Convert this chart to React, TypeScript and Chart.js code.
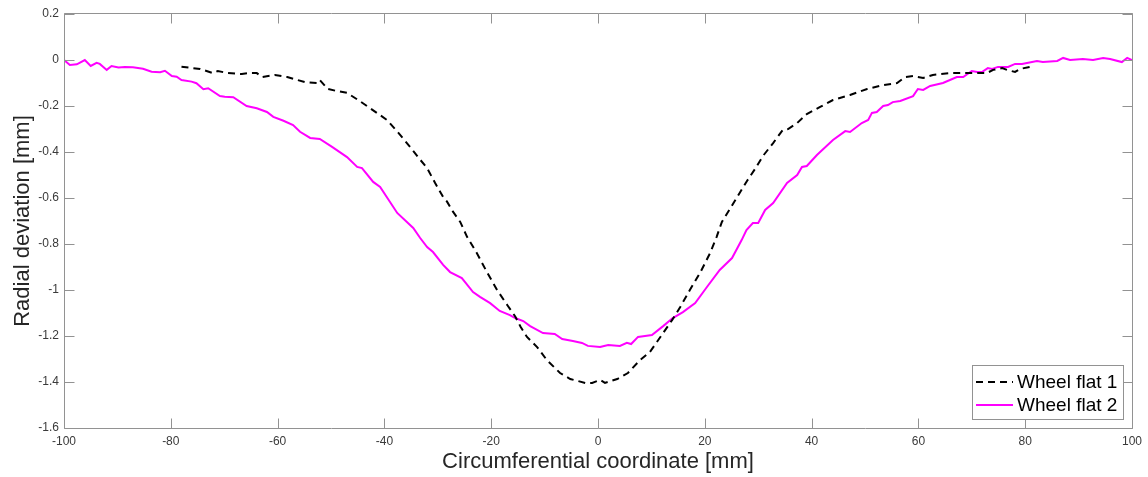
import React, { useEffect, useRef } from "react";
import { Chart, registerables } from "chart.js";

Chart.register(...registerables);

// ---- Data ----
const seriesLabels = ["Wheel flat 1", "Wheel flat 2"];

const flat1X = [
  -78.0, -74.5, -72.1, -71.2, -69.3, -66.7, -65.5, -63.9, -62.9, -60.5, -58.2, -54.9, -52.6, -52.1,
  -50.6, -48.9, -47.0, -44.9, -42.7, -39.5, -37.5, -35.2, -33.7, -32.0, -30.5, -29.0, -28.3, -27.3,
  -25.8, -24.5, -22.7, -20.8, -18.9, -17.0, -15.5, -14.5, -13.3, -11.4, -9.6, -7.1, -5.2, -2.4,
  -1.1, 0.4, 1.3, 3.6, 5.6, 7.9, 9.7, 12.2, 13.9, 15.4, 17.2, 19.1, 21.0, 22.2, 23.2, 24.7, 26.2,
  27.9, 29.4, 30.9, 32.8, 34.6, 35.6, 37.3, 39.1, 41.6, 44.0, 47.2, 50.4, 53.4, 56.0, 57.5, 59.0,
  60.9, 62.7, 65.9, 69.1, 71.2, 72.8, 74.0, 75.7, 76.6, 78.1, 79.0, 80.9,
];
const flat1Y = [
  -0.029, -0.039, -0.057, -0.048, -0.057, -0.061, -0.057, -0.057, -0.074, -0.065, -0.074, -0.096, -0.1, -0.087,
  -0.126, -0.135, -0.143, -0.174, -0.209, -0.261, -0.313, -0.378, -0.422, -0.47, -0.535, -0.596, -0.615, -0.655,
  -0.704, -0.77, -0.839, -0.922, -1.0, -1.065, -1.115, -1.16, -1.204, -1.248, -1.304, -1.361, -1.387, -1.404,
  -1.404, -1.391, -1.404, -1.387, -1.361, -1.304, -1.27, -1.187, -1.13, -1.074, -1.0, -0.926, -0.839, -0.77, -0.704, -0.648, -0.591,
  -0.526, -0.474, -0.417, -0.361, -0.304, -0.3, -0.274, -0.235, -0.204, -0.174, -0.152, -0.126, -0.109, -0.1, -0.074, -0.07,
  -0.078, -0.065, -0.057, -0.057, -0.057, -0.057, -0.043, -0.035, -0.043, -0.052, -0.039, -0.03,
];

const flat2X = [
  -100, -98.9, -97.6, -96.1, -95.0, -93.9, -93.3, -92.0, -91.1, -89.8, -88.6, -87.1, -85.2, -83.6,
  -82.0, -81.1, -79.8, -78.9, -78.0, -76.1, -75.2, -73.9, -73.0, -70.8, -69.9, -68.3, -65.8, -63.9,
  -62.0, -60.8, -58.9, -57.1, -55.8, -53.9, -52.1, -49.8, -47.0, -45.1, -44.2, -42.1, -40.8, -37.6,
  -34.6, -33.3, -32.0, -30.9, -29.0, -27.7, -25.5, -23.4, -22.1, -20.2, -18.4, -16.5, -15.5, -14.0,
  -12.7, -10.3, -8.1, -6.7, -4.7, -3.0, -1.9, 0.4, 1.9, 4.1, 5.4, 6.2, 7.5, 8.8, 10.1, 12.2, 14.0,
  15.9, 18.2, 20.4, 22.8, 25.1, 26.9, 27.8, 29.0, 30.0, 31.3, 32.8, 35.4, 37.3, 38.2, 39.1, 41.0,
  44.0, 46.3, 47.2, 49.4, 50.6, 51.3, 52.2, 53.4, 54.3, 55.2, 56.6, 59.0, 59.9, 60.9, 62.2, 64.6,
  67.2, 68.4, 70.0, 71.0, 71.9, 73.0, 73.8, 74.9, 76.8, 78.1, 79.4, 82.2, 83.3, 86.0, 87.1, 88.4,
  90.8, 92.7, 94.6, 95.9, 98.1, 99.1, 100,
];
const flat2Y = [
  0, -0.022, -0.019, 0.0, -0.026, -0.012, -0.017, -0.043, -0.026, -0.033, -0.03, -0.032, -0.038, -0.051,
  -0.053, -0.047, -0.07, -0.073, -0.087, -0.094, -0.101, -0.127, -0.123, -0.157, -0.16, -0.162, -0.2, -0.21,
  -0.226, -0.247, -0.264, -0.283, -0.312, -0.339, -0.343, -0.378, -0.422, -0.465, -0.47, -0.53, -0.552, -0.665,
  -0.73, -0.774, -0.813, -0.835, -0.891, -0.922, -0.948, -1.009, -1.03, -1.057, -1.091, -1.109, -1.122, -1.135,
  -1.157, -1.187, -1.191, -1.213, -1.222, -1.23, -1.243, -1.248, -1.239, -1.243, -1.23, -1.235, -1.204, -1.2, -1.196, -1.157, -1.122,
  -1.096, -1.057, -0.987, -0.913, -0.861, -0.783, -0.739, -0.709, -0.709, -0.652, -0.622, -0.535, -0.5, -0.465, -0.461, -0.413,
  -0.348, -0.309, -0.313, -0.274, -0.261, -0.23, -0.226, -0.2, -0.196, -0.183, -0.178, -0.157, -0.126, -0.13, -0.113, -0.1,
  -0.074, -0.074, -0.048, -0.052, -0.052, -0.035, -0.039, -0.03, -0.03, -0.017, -0.017, -0.004, -0.009, -0.004, 0.009, 0,
  0.004, 0, 0.009, 0.004, -0.009, 0.009, 0,
];

const xTickValues = [-100, -80, -60, -40, -20, 0, 20, 40, 60, 80, 100];
const yTickValues = [0.2, 0, -0.2, -0.4, -0.6, -0.8, -1, -1.2, -1.4, -1.6];
const xTitle = "Circumferential coordinate [mm]";
const yTitle = "Radial deviation [mm]";

// ---- Styling ----
const FONT = '"Liberation Sans", Helvetica, Arial, sans-serif';
const AXIS_COLOR = "#929292";
const TICK_TEXT = "#3a3a3a";
const TITLE_TEXT = "#262626";
const TICK_LEN = 10;

const framePlugin = {
  id: "matlabFrame",
  afterDatasetsDraw(chart: any) {
    const { ctx, chartArea } = chart;
    const { left, right, top, bottom } = chartArea;
    const xs = chart.scales.x;
    const ys = chart.scales.y;
    const L = Math.round(left) + 0.5;
    const R = Math.round(right) + 0.5;
    const T = Math.round(top) - 0.5;
    const B = Math.round(bottom) + 0.5;
    ctx.save();
    ctx.strokeStyle = AXIS_COLOR;
    ctx.lineWidth = 1;
    ctx.setLineDash([]);
    ctx.beginPath();
    ctx.rect(L, T, R - L, B - T);
    xs.ticks.forEach((t: any) => {
      const px = Math.round(xs.getPixelForValue(t.value)) + 0.5;
      ctx.moveTo(px, B);
      ctx.lineTo(px, B - TICK_LEN);
      ctx.moveTo(px, T);
      ctx.lineTo(px, T + TICK_LEN);
    });
    ys.ticks.forEach((t: any) => {
      const py = Math.round(ys.getPixelForValue(t.value)) + 0.5;
      ctx.moveTo(L, py);
      ctx.lineTo(L + TICK_LEN, py);
      ctx.moveTo(R, py);
      ctx.lineTo(R - TICK_LEN, py);
    });
    ctx.stroke();
    ctx.restore();
  },
  afterDraw(chart: any) {
    const { ctx, chartArea } = chart;
    const datasets = chart.data.datasets;
    ctx.save();
    ctx.font = `19px ${FONT}`;
    const tw = Math.max(...datasets.map((d: any) => ctx.measureText(d.label).width));
    const sample = 37;
    const gap = 4;
    const padL = 4;
    const padR = 6;
    const w = Math.round(padL + sample + gap + tw + padR);
    const h = 54;
    const bx = Math.round(chartArea.right) - 9 - w;
    const by = Math.round(chartArea.bottom) - 9 - h;
    ctx.fillStyle = "#ffffff";
    ctx.fillRect(bx, by, w, h);
    ctx.strokeStyle = AXIS_COLOR;
    ctx.lineWidth = 1;
    ctx.strokeRect(bx + 0.5, by + 0.5, w, h);
    datasets.forEach((d: any, i: number) => {
      const cy = by + 17 + i * 23;
      ctx.beginPath();
      ctx.strokeStyle = d.borderColor;
      ctx.lineWidth = d.borderWidth;
      ctx.setLineDash(d.borderDash || []);
      ctx.moveTo(bx + padL, cy);
      ctx.lineTo(bx + padL + sample, cy);
      ctx.stroke();
      ctx.setLineDash([]);
      ctx.fillStyle = "#000000";
      ctx.textAlign = "left";
      ctx.textBaseline = "middle";
      ctx.fillText(d.label, bx + padL + sample + gap, cy + 1);
    });
    ctx.restore();
  },
};

export default function App() {
  const canvasRef = useRef<HTMLCanvasElement | null>(null);

  useEffect(() => {
    const canvas = canvasRef.current;
    if (!canvas) return;
    const toPoints = (xs: number[], ys: number[]) => xs.map((x, i) => ({ x, y: ys[i] }));
    const chart = new Chart(canvas, {
      type: "line",
      data: {
        datasets: [
          {
            label: seriesLabels[0],
            data: toPoints(flat1X, flat1Y),
            borderColor: "#000000",
            borderWidth: 2,
            borderDash: [7, 5],
            pointRadius: 0,
            tension: 0,
            fill: false,
          },
          {
            label: seriesLabels[1],
            data: toPoints(flat2X, flat2Y),
            borderColor: "#ff00ff",
            borderWidth: 2,
            pointRadius: 0,
            tension: 0,
            fill: false,
          },
        ],
      },
      options: {
        responsive: false,
        maintainAspectRatio: false,
        animation: false,
        parsing: true,
        layout: { padding: { top: 14, right: 16, bottom: 0, left: 0 } },
        plugins: {
          legend: { display: false },
          tooltip: { enabled: false },
        },
        scales: {
          x: {
            type: "linear",
            min: -100,
            max: 100,
            grid: { display: false, drawTicks: false },
            border: { display: false },
            afterBuildTicks: (s: any) => {
              s.ticks = xTickValues.map((v) => ({ value: v }));
            },
            afterFit: (s: any) => {
              s.height = 49;
              s.paddingLeft = 0;
              s.paddingRight = 0;
            },
            ticks: {
              autoSkip: false,
              maxRotation: 0,
              padding: 6,
              color: TICK_TEXT,
              font: { family: FONT, size: 12 },
              callback: (v: any) => String(v),
            },
            title: {
              display: true,
              text: xTitle,
              color: TITLE_TEXT,
              font: { family: FONT, size: 22 },
              padding: { top: 0, bottom: 2 },
            },
          },
          y: {
            type: "linear",
            min: -1.6,
            max: 0.2,
            grid: { display: false, drawTicks: false },
            border: { display: false },
            afterBuildTicks: (s: any) => {
              s.ticks = yTickValues.map((v) => ({ value: v }));
            },
            afterFit: (s: any) => {
              s.width = 64;
              s.paddingTop = 0;
              s.paddingBottom = 0;
            },
            ticks: {
              autoSkip: false,
              padding: 5,
              color: TICK_TEXT,
              font: { family: FONT, size: 12 },
              callback: (v: any) => String(Number(Number(v).toFixed(1))),
            },
            title: {
              display: true,
              text: yTitle,
              color: TITLE_TEXT,
              font: { family: FONT, size: 22 },
              padding: { top: 10, bottom: 0 },
            },
          },
        },
      },
      plugins: [framePlugin],
    });
    return () => chart.destroy();
  }, []);

  return (
    <div style={{ position: "fixed", left: 0, top: 0, width: 1148, height: 477, background: "#fff" }}>
      <canvas ref={canvasRef} width={1148} height={477} style={{ display: "block" }} />
    </div>
  );
}
